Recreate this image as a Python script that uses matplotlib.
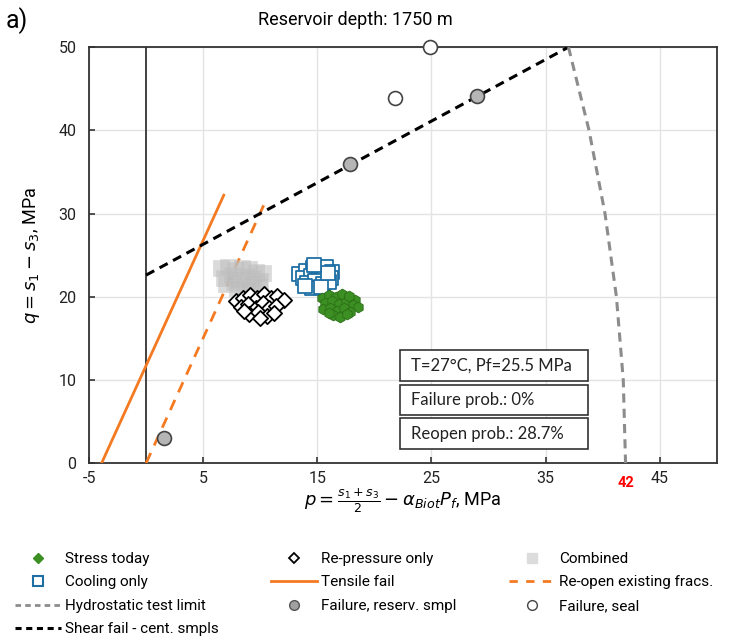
import matplotlib
matplotlib.use("Agg")
import matplotlib.pyplot as plt
from matplotlib.lines import Line2D
from matplotlib.patches import Rectangle

plt.rcParams['font.family'] = ['Roboto', 'DejaVu Sans']
plt.rcParams['mathtext.fontset'] = 'dejavusans'
plt.rcParams['axes.unicode_minus'] = False

# ---------------- data ----------------
x_ticks = [-5, 5, 15, 25, 35, 45]
y_ticks = [0, 10, 20, 30, 40, 50]

combined_p = [6.6, 7.2, 7.8, 8.4, 9.0, 9.6, 10.2, 6.8, 7.5, 8.1, 8.8, 9.4, 10.0, 7.0, 7.7, 8.5, 9.2, 9.9, 8.0, 8.9]
combined_q = [23.4, 23.6, 23.2, 23.5, 23.3, 23.0, 22.8, 22.3, 22.6, 22.1, 22.5, 22.2, 21.9, 21.5, 21.8, 21.4, 21.7, 21.3, 21.0, 20.9]

repress_p = [7.9, 8.5, 9.1, 9.7, 10.3, 10.9, 11.5, 12.1, 8.3, 8.9, 9.6, 10.2, 10.8, 11.4, 9.0, 9.8, 10.6, 11.2, 8.6, 10.0]
repress_q = [19.5, 19.9, 20.2, 19.8, 20.3, 19.9, 20.1, 19.6, 18.8, 19.1, 18.6, 19.2, 18.7, 18.9, 17.9, 18.2, 17.7, 18.1, 18.3, 17.5]

cooling_p = [13.4, 14.0, 14.6, 15.2, 15.8, 16.3, 13.7, 14.4, 15.0, 15.6, 16.2, 14.1, 14.8, 15.5, 16.0, 14.5, 15.3, 13.9, 15.9, 14.7]
cooling_q = [22.7, 23.1, 23.5, 23.2, 23.6, 23.0, 22.2, 22.5, 22.0, 22.6, 22.3, 21.6, 21.9, 21.5, 21.8, 21.0, 21.2, 21.3, 22.9, 23.8]

today_p = [15.4, 16.0, 16.6, 17.2, 17.8, 18.3, 15.7, 16.3, 16.9, 17.5, 18.1, 18.6, 15.5, 16.1, 16.7, 17.3, 17.9, 16.4, 17.0, 17.6, 16.0, 17.8]
today_q = [19.9, 20.2, 20.0, 20.3, 19.9, 19.6, 19.2, 19.5, 19.1, 19.4, 19.0, 18.8, 18.5, 18.7, 18.3, 18.6, 18.2, 17.8, 17.6, 17.9, 18.0, 20.1]

tensile_p = [-3.9, 6.8]
tensile_q = [0.0, 32.2]

reopen_p = [0.0, 10.4]
reopen_q = [0.0, 31.3]

shear_p = [0.0, 37.0]
shear_q = [22.6, 50.0]

hydro_p = [37.0, 38.8, 40.2, 41.2, 41.8, 42.0]
hydro_q = [50.0, 40.0, 30.0, 20.0, 10.0, 0.0]

fail_res_p = [1.6, 17.9, 29.0]
fail_res_q = [3.0, 35.9, 44.1]

fail_seal_p = [21.8, 24.9]
fail_seal_q = [43.9, 50.0]

vert_p = [0.0, 0.0]
vert_q = [0.0, 50.0]

box_texts = ["T=27°C, Pf=25.5 MPa", "Failure prob.: 0%", "Reopen prob.: 28.7%"]

# ---------------- figure ----------------
fig = plt.figure(figsize=(7.3, 6.37), dpi=100)
ax = fig.add_axes([0.122, 0.273, 0.860, 0.653])

orange = '#F47A22'
ax.set_xlim(-5, 50)
ax.set_ylim(0, 50)
ax.set_xticks(x_ticks)
ax.set_yticks(y_ticks)
ax.grid(True, color='#e3e3e3', lw=1.0, zorder=0)
ax.set_axisbelow(True)
for s in ax.spines.values():
    s.set_color('#333333')
    s.set_linewidth(1.3)
ax.tick_params(direction='in', length=4, width=1.2, colors='#333333', labelsize=11.5, labelcolor='#222222')
ax.tick_params(axis='x', pad=6)
ax.tick_params(axis='y', pad=9)

ax.plot(vert_p, vert_q, color='#333333', lw=1.3, zorder=2)

ax.plot(tensile_p, tensile_q, color=orange, lw=2, zorder=3)
ax.plot(reopen_p, reopen_q, color=orange, lw=2, ls=(0, (4, 3)), zorder=3)
ax.plot(shear_p, shear_q, color='black', lw=2.2, ls=(0, (3, 2)), zorder=3)
ax.plot(hydro_p, hydro_q, color='#8c8c8c', lw=2.2, ls=(0, (3, 2)), zorder=3)

ax.scatter(combined_p, combined_q, marker='s', s=120, color='#bdbdbd', alpha=0.55,
           edgecolors='#c8c8c8', linewidths=0.5, zorder=4)
ax.scatter(repress_p, repress_q, marker='D', s=60, facecolors='white', edgecolors='black',
           linewidths=1.3, zorder=4)
ax.scatter(cooling_p, cooling_q, marker='s', s=100, facecolors='white', edgecolors='#1F6FA5',
           linewidths=1.3, zorder=4)
ax.scatter(today_p, today_q, marker='h', s=60, color='#3C8F22', edgecolors='#2c6e18',
           linewidths=0.6, zorder=4)

ax.plot(fail_res_p, fail_res_q, ls='none', marker='o', ms=10, mfc='#b5b5b5', mec='#444444',
        mew=1.2, zorder=6, clip_on=False)
ax.plot(fail_seal_p, fail_seal_q, ls='none', marker='o', ms=10, mfc='white', mec='#444444',
        mew=1.2, zorder=6, clip_on=False)

# text boxes (fixed-size frames)
box_font = dict(family=['Lato', 'DejaVu Sans'], fontsize=12, color='#222222')
box_x0, box_x1 = 22.2, 38.7
box_rows = [(9.9, 13.6), (5.8, 9.4), (1.7, 5.4)]
for txt, (y0, y1) in zip(box_texts, box_rows):
    ax.add_patch(Rectangle((box_x0, y0), box_x1 - box_x0, y1 - y0, fc='white',
                           ec='#333333', lw=1.2, zorder=7))
    ax.text(box_x0 + 1.0, (y0 + y1) / 2, txt, ha='left', va='center', zorder=8, **box_font)

ax.text(42, -1.5, '42', color='red', ha='center', va='top', fontsize=10.5, fontweight='bold')

ax.set_xlabel(r'$p = \frac{s_1+s_3}{2} - \alpha_{Biot}P_f$, MPa', fontsize=13, labelpad=0)
ax.set_ylabel(r'$q = s_1 - s_3$, MPa', fontsize=13, labelpad=12)

fig.text(0.487, 0.968, 'Reservoir depth: 1750 m', ha='center', va='center', fontsize=13)
fig.text(0.008, 0.968, 'a)', ha='left', va='center', fontsize=18)

# legend
h_today = Line2D([], [], ls='none', marker='D', ms=5, color='#3C8F22')
h_cool = Line2D([], [], ls='none', marker='s', ms=7, mfc='white', mec='#1F6FA5', mew=1.5)
h_hydro = Line2D([], [], color='#8c8c8c', lw=2, ls=(0, (2, 1.5)))
h_shear = Line2D([], [], color='black', lw=2.2, ls=(0, (2, 1.5)))
h_rep = Line2D([], [], ls='none', marker='D', ms=5, mfc='white', mec='black', mew=1.3)
h_tens = Line2D([], [], color=orange, lw=2)
h_fres = Line2D([], [], ls='none', marker='o', ms=7, mfc='#a0a0a0', mec='#555555')
h_comb = Line2D([], [], ls='none', marker='s', ms=7, color='#dcdcdc')
h_reop = Line2D([], [], color=orange, lw=2, ls=(0, (3, 3)))
h_seal = Line2D([], [], ls='none', marker='o', ms=7, mfc='white', mec='#444444')

handles = [h_today, h_cool, h_hydro, h_shear, h_rep, h_tens, h_fres, h_comb, h_reop, h_seal]
labels = ['Stress today', 'Cooling only', 'Hydrostatic test limit', 'Shear fail - cent. smpls',
          'Re-pressure only', 'Tensile fail', 'Failure, reserv. smpl',
          'Combined', 'Re-open existing fracs.', 'Failure, seal']
fig.legend(handles, labels, ncol=3, loc='upper left', bbox_to_anchor=(0.012, 0.143),
           frameon=False, fontsize=11, handlelength=3.0, columnspacing=3.4,
           labelspacing=0.62, handletextpad=0.3, borderaxespad=0)

fig.savefig('out.png', dpi=100)
